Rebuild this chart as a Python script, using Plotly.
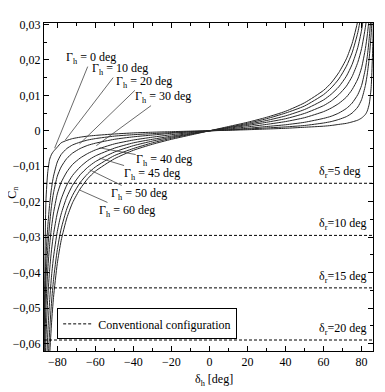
import plotly.graph_objects as go

# ---- data ----
delta_h = [-87, -86, -85, -84, -83, -82, -80, -78, -75, -72, -68, -64, -60, -50, -40, -30, -20, -10, 0,
           10, 20, 30, 40, 50, 60, 64, 68, 72, 75, 78, 80, 82, 83, 84, 85, 86, 87]

cn_g0 = [-0.07, -0.02, -0.0115, -0.008, -0.0066, -0.0058, -0.0046, -0.0034, -0.0027, -0.0022, -0.0018, -0.0015, -0.0013, -0.0009, -0.0006, -0.0004, -0.00025, -0.0001, 0,
         0.00015, 0.0003, 0.0005, 0.0007, 0.001, 0.0013, 0.0015, 0.0018, 0.0021, 0.0025, 0.003, 0.0036, 0.0046, 0.0056, 0.0075, 0.012, 0.026, 0.05]
cn_g10 = [-0.055, -0.036, -0.027, -0.0205, -0.016, -0.0128, -0.0088, -0.0067, -0.005, -0.004, -0.0032, -0.0026, -0.0022, -0.0015, -0.0011, -0.0008, -0.0005, -0.0002, 0,
          0.0002, 0.0005, 0.0008, 0.0011, 0.0015, 0.0022, 0.0026, 0.0032, 0.004, 0.005, 0.0067, 0.0088, 0.0128, 0.016, 0.0205, 0.027, 0.036, 0.055]
cn_g20 = [-0.06, -0.042, -0.033, -0.026, -0.021, -0.0175, -0.0128, -0.0102, -0.0078, -0.0063, -0.005, -0.0041, -0.0035, -0.0024, -0.0017, -0.0012, -0.0007, -0.0003, 0,
          0.0003, 0.0007, 0.0012, 0.0017, 0.0024, 0.0035, 0.0041, 0.005, 0.0063, 0.0078, 0.0102, 0.0128, 0.0175, 0.021, 0.026, 0.033, 0.042, 0.06]
cn_g30 = [-0.07, -0.05, -0.039, -0.032, -0.027, -0.0232, -0.0178, -0.0146, -0.0116, -0.0095, -0.0077, -0.0064, -0.0054, -0.0037, -0.0026, -0.0018, -0.0011, -0.0005, 0,
          0.0005, 0.0011, 0.0018, 0.0026, 0.0037, 0.0054, 0.0064, 0.0077, 0.0095, 0.0116, 0.0146, 0.0178, 0.0232, 0.027, 0.032, 0.039, 0.05, 0.07]
cn_g40 = [-0.078, -0.0586, -0.0469, -0.039, -0.0334, -0.0292, -0.0232, -0.0193, -0.0153, -0.0126, -0.0102, -0.0084, -0.0071, -0.0049, -0.0034, -0.0024, -0.0015, -0.0007, 0,
          0.0007, 0.0015, 0.0024, 0.0034, 0.0049, 0.0071, 0.0084, 0.0102, 0.0126, 0.0153, 0.0193, 0.0232, 0.0292, 0.0334, 0.039, 0.0469, 0.0586, 0.078]
cn_g45 = [-0.095, -0.0715, -0.057, -0.0476, -0.0407, -0.0356, -0.0284, -0.0235, -0.0187, -0.0154, -0.0124, -0.0103, -0.0087, -0.006, -0.0042, -0.0029, -0.0018, -0.0009, 0,
          0.0009, 0.0018, 0.0029, 0.0042, 0.006, 0.0087, 0.0103, 0.0124, 0.0154, 0.0187, 0.0235, 0.0284, 0.0356, 0.0407, 0.0476, 0.057, 0.0715, 0.095]
cn_g50 = [-0.113, -0.084, -0.067, -0.056, -0.048, -0.042, -0.0335, -0.0277, -0.022, -0.0182, -0.0146, -0.0121, -0.0102, -0.007, -0.005, -0.0034, -0.0021, -0.001, 0,
          0.001, 0.0021, 0.0034, 0.005, 0.007, 0.0102, 0.0121, 0.0146, 0.0182, 0.022, 0.0277, 0.0335, 0.042, 0.048, 0.056, 0.067, 0.084, 0.113]
cn_g60 = [-0.126, -0.094, -0.075, -0.063, -0.054, -0.047, -0.0374, -0.031, -0.0246, -0.0203, -0.0164, -0.0135, -0.0114, -0.0079, -0.0055, -0.0038, -0.0024, -0.0012, 0,
          0.0012, 0.0024, 0.0038, 0.0055, 0.0079, 0.0114, 0.0135, 0.0164, 0.0203, 0.0246, 0.031, 0.0374, 0.047, 0.054, 0.063, 0.075, 0.094, 0.126]

curves = [cn_g0, cn_g10, cn_g20, cn_g30, cn_g40, cn_g45, cn_g50, cn_g60]
gamma_labels = ["0", "10", "20", "30", "40", "45", "50", "60"]
# label text position and pointer target (data coords)
label_text_x = [-62.2, -47.2, -34.6, -24.6, -23.8, -30.2, -37.0, -43.6]
label_text_y = [0.0205, 0.0174, 0.0138, 0.0095, -0.0082, -0.0122, -0.0178, -0.0226]
label_tip_x = [-81.4, -75.8, -68.3, -59.5, -57.8, -57.8, -63.0, -68.3]
label_tip_y = [-0.0049, -0.0026, -0.0037, -0.0042, -0.0048, -0.0077, -0.011, -0.0167]

conv_delta_r = ["5", "10", "15", "20"]
conv_cn = [-0.0148, -0.0295, -0.0443, -0.059]
conv_label_x = [56.3, 56.3, 56.3, 56.3]

x_range = [-87, 86]
y_range = [-0.0621, 0.0304]
x_ticks = [-80, -60, -40, -20, 0, 20, 40, 60, 80]
x_ticktext = ["\u221280", "\u221260", "\u221240", "\u221220", "0", "20", "40", "60", "80"]
y_ticks = [0.03, 0.02, 0.01, 0, -0.01, -0.02, -0.03, -0.04, -0.05, -0.06]
y_ticktext = ["0,03", "0,02", "0,01", "0", "\u22120,01", "\u22120,02", "\u22120,03", "\u22120,04", "\u22120,05", "\u22120,06"]

FONT = "Liberation Serif, Times New Roman, DejaVu Serif, serif"
fig = go.Figure()

for cv in curves:
    fig.add_trace(go.Scatter(x=delta_h, y=cv, mode="lines", showlegend=False,
                             line=dict(color="#262626", width=1, shape="spline", smoothing=0.6)))

# conventional configuration dashed lines
dx, dy = [], []
for c in conv_cn:
    dx += [x_range[0], x_range[1], None]
    dy += [c, c, None]
fig.add_trace(go.Scatter(x=dx, y=dy, mode="lines", name="Conventional configuration",
                         line=dict(color="black", width=1, dash="3px,2px")))

ann = []
for g, tx, ty, px, py in zip(gamma_labels, label_text_x, label_text_y, label_tip_x, label_tip_y):
    ann.append(dict(x=px, y=py, ax=tx, ay=ty, axref="x", ayref="y", xref="x", yref="y",
                    text="\u0393<sub>h</sub> = " + g + " deg", showarrow=True, arrowhead=0,
                    arrowwidth=0.8, arrowcolor="#444", font=dict(family=FONT, size=12, color="black"),
                    borderpad=0))
for dr, c, lx in zip(conv_delta_r, conv_cn, conv_label_x):
    ann.append(dict(x=lx, y=c, xref="x", yref="y", text="\u03b4<sub>r</sub>=" + dr + " deg",
                    showarrow=False, xanchor="left", yanchor="bottom", yshift=1,
                    font=dict(family=FONT, size=12, color="black")))
# axis titles
ann.append(dict(x=-0.095, y=0.485, xref="paper", yref="paper", text="C<sub>n</sub>", textangle=-90,
                showarrow=False, xanchor="center", yanchor="middle", font=dict(family=FONT, size=12, color="black")))
ann.append(dict(x=0.516, y=-0.088, xref="paper", yref="paper", text="\u03b4<sub>h</sub> [deg]",
                showarrow=False, xanchor="center", yanchor="middle", font=dict(family=FONT, size=12, color="black")))

axis_common = dict(showline=True, linecolor="black", linewidth=1, mirror="ticks",
                   ticks="inside", ticklen=5, tickcolor="black", showgrid=False, zeroline=False,
                   automargin=False, tickfont=dict(family=FONT, size=12, color="black"))

# page body has an 8px default margin, so the figure is sized/offset to compensate
fig.update_layout(
    width=377, height=384,
    margin=dict(l=36, r=12, t=15, b=41),
    plot_bgcolor="white", paper_bgcolor="white",
    font=dict(family=FONT, size=12, color="black"),
    annotations=ann,
    xaxis=dict(range=x_range, tickvals=x_ticks, ticktext=x_ticktext,
               minor=dict(dtick=10, ticks="inside", ticklen=3, tickcolor="black"),
               **axis_common),
    yaxis=dict(range=y_range, tickvals=y_ticks, ticktext=y_ticktext,
               minor=dict(dtick=0.005, ticks="inside", ticklen=3, tickcolor="black"),
               **axis_common),
    legend=dict(x=0.04, y=0.13, xanchor="left", yanchor="top", bordercolor="black", borderwidth=1,
                bgcolor="white", font=dict(family=FONT, size=12), itemwidth=30,
                entrywidth=170, entrywidthmode="pixels", tracegroupgap=0),
)

fig.write_html("out.html")
